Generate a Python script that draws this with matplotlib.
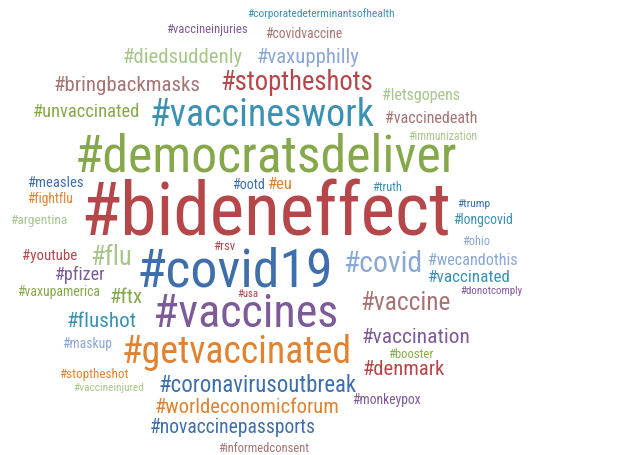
import matplotlib
matplotlib.use('Agg')
from matplotlib import pyplot as plt

# hashtags in the cloud and their colour group
tags = ['#corporatedeterminantsofhealth', '#vaccineinjuries', '#covidvaccine',
        '#diedsuddenly', '#vaxupphilly', '#bringbackmasks', '#stoptheshots',
        '#letsgopens', '#unvaccinated', '#vaccineswork', '#vaccinedeath',
        '#immunization', '#democratsdeliver', '#measles', '#ootd', '#eu',
        '#truth', '#fightflu', '#bideneffect', '#trump', '#argentina',
        '#longcovid', '#ohio', '#rsv', '#youtube', '#flu', '#covid19',
        '#covid', '#wecandothis', '#pfizer', '#vaccinated', '#vaxupamerica',
        '#ftx', '#usa', '#donotcomply', '#vaccine', '#vaccines', '#flushot',
        '#vaccination', '#maskup', '#getvaccinated', '#booster', '#denmark',
        '#stoptheshot', '#coronavirusoutbreak', '#vaccineinjured',
        '#worldeconomicforum', '#monkeypox', '#novaccinepassports',
        '#informedconsent']
groups = ['teal', 'purple', 'brown', 'lgreen', 'lblue', 'brown', 'red',
          'lgreen', 'green', 'teal', 'brown', 'lgreen', 'green', 'blue', 'blue',
          'orange', 'teal', 'orange', 'red', 'blue', 'lgreen', 'teal', 'lblue',
          'red', 'red', 'lgreen', 'blue', 'lblue', 'lblue', 'purple', 'teal',
          'green', 'green', 'red', 'purple', 'brown', 'purple', 'teal',
          'purple', 'lblue', 'orange', 'green', 'red', 'orange', 'blue',
          'lgreen', 'orange', 'purple', 'blue', 'brown']

palette = {'red': '#b5474b', 'green': '#87a84a', 'teal': '#3b91b2',
           'blue': '#3f6fab', 'purple': '#7d5b98', 'orange': '#e08230',
           'lgreen': '#a8c68b', 'lblue': '#8ba7d6', 'brown': '#a67474'}

# layout of the cloud in pixels: left edge, baseline, word width
layout = [(247, 17, 146), (166, 33, 81), (265, 38, 77), (123, 63, 119),
          (257, 63, 103), (54, 91, 146), (220, 90, 152), (382, 100, 78),
          (33, 117, 107), (150, 126, 223), (385, 123, 92), (408, 140, 69),
          (75, 172, 380), (27, 187, 56), (232, 189, 33), (268, 189, 25),
          (372, 191, 30), (27, 203, 46), (80, 235, 368), (457, 207, 33),
          (10, 224, 57), (453, 224, 60), (462, 245, 28), (213, 250, 22),
          (22, 260, 55), (90, 265, 42), (137, 287, 196), (343, 272, 79),
          (428, 265, 90), (55, 280, 50), (428, 282, 82), (17, 296, 83),
          (110, 303, 33), (237, 297, 21), (460, 294, 62), (360, 310, 90),
          (153, 327, 184), (67, 327, 70), (362, 343, 108), (62, 348, 50),
          (122, 363, 228), (388, 358, 45), (363, 375, 82), (59, 378, 68),
          (158, 392, 197), (73, 391, 71), (155, 413, 185), (352, 404, 69),
          (150, 433, 165), (218, 452, 90)]

fig = plt.figure(figsize=(6.26, 4.56), dpi=100)
ax = fig.add_axes([0, 0, 1, 1])
ax.set_xlim(0, 626)
ax.set_ylim(456, 0)
ax.axis('off')

fam = ['Roboto Condensed', 'Roboto', 'DejaVu Sans']
renderer = fig.canvas.get_renderer()
for tag, g, (x, y, w) in zip(tags, groups, layout):
    t = ax.text(x, y, tag, fontsize=10, family=fam, color=palette[g],
                ha='left', va='baseline')
    ext = t.get_window_extent(renderer)
    t.set_fontsize(10 * w / ext.width)

fig.savefig('out.png', dpi=100)
